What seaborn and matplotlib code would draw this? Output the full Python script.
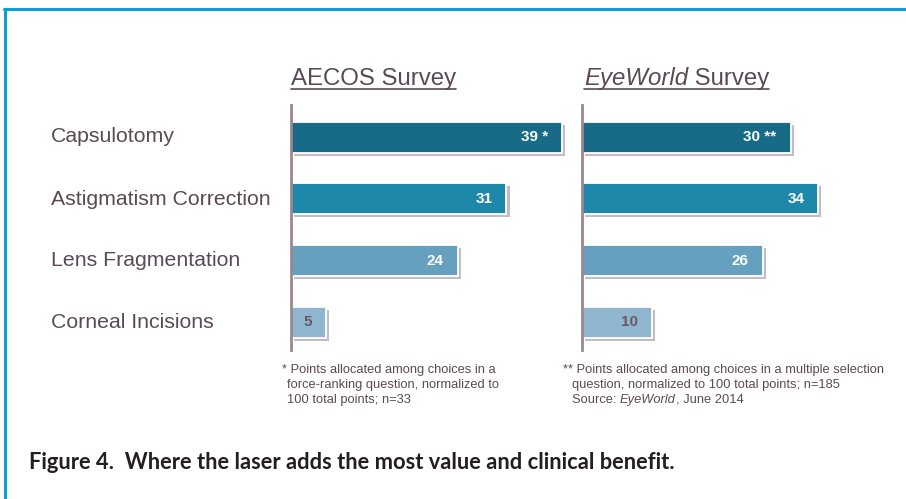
import matplotlib
matplotlib.use("Agg")
import matplotlib.pyplot as plt
import matplotlib.patheffects as pe
from matplotlib.lines import Line2D
import seaborn as sns
import pandas as pd

categories = ["Capsulotomy", "Astigmatism Correction", "Lens Fragmentation", "Corneal Incisions"]
aecos_values = [39, 31, 24, 5]
eyeworld_values = [30, 34, 26, 10]
aecos_labels = ["39 *", "31", "24", "5"]
eyeworld_labels = ["30 **", "34", "26", "10"]
bar_colors = ["#176b87", "#1e88ab", "#65a0bf", "#8fb5cf"]
label_colors = ["white", "white", "white", "#6b5a65"]

sns.set_style("white")
plt.rcParams["font.family"] = ["Liberation Sans", "DejaVu Sans"]

W, H = 906, 499
fig = plt.figure(figsize=(W / 100, H / 100), dpi=100)
fig.patch.set_facecolor("white")
renderer = fig.canvas.get_renderer()

TXT = "#5b4a55"
AXC = "#9b8790"


def fx(px):
    return px / W


def fy(py):
    return 1 - py / H


def width_px(t):
    return t.get_window_extent(renderer=renderer).width


def fit(t, target):
    w = width_px(t)
    t.set_fontsize(t.get_fontsize() * target / w)
    return t


def chain(x, y, parts, size, color):
    """parts: list of (text, style). returns right edge px"""
    for s, style in parts:
        t = fig.text(fx(x), fy(y), s, ha="left", va="baseline", fontsize=size, color=color, style=style)
        x += width_px(t)
    return x


# border (top and left)
fig.add_artist(Line2D([fx(5), fx(5)], [fy(9), 0], color="#0b9fd8", lw=2.2, transform=fig.transFigure))
fig.add_artist(Line2D([fx(4), 1], [fy(9), fy(9)], color="#0b9fd8", lw=2.2, transform=fig.transFigure))

ax_bottom, ax_top = 350, 105
panels = [
    (291, aecos_values, aecos_labels),
    (582, eyeworld_values, eyeworld_labels),
]
for left, vals, labs in panels:
    ax = fig.add_axes([fx(left), fy(ax_bottom), 278 / W, (ax_bottom - ax_top) / H])
    df = pd.DataFrame({"cat": categories, "val": vals})
    sns.barplot(data=df, y="cat", x="val", hue="cat", palette=bar_colors, orient="h",
                width=0.5, legend=False, ax=ax, saturation=1)
    for p in ax.patches:
        p.set_edgecolor("white")
        p.set_linewidth(1.3)
        p.set_path_effects([pe.SimplePatchShadow(offset=(2.2, -2.2), shadow_rgbFace="#8c7a86", alpha=0.5),
                            pe.Normal()])
    for i, (v, t) in enumerate(zip(vals, labs)):
        ax.annotate(t, xy=(v, i), xytext=(-10, 0), textcoords="offset points",
                    ha="right", va="center", color=label_colors[i], fontsize=11, fontweight="bold")
    ax.set_xlim(0, 40)
    ax.set_ylim(3.45, -0.52)
    ax.set_xlabel("")
    ax.set_ylabel("")
    ax.set_xticks([])
    ax.set_yticks([])
    for s in ["top", "right", "bottom"]:
        ax.spines[s].set_visible(False)
    ax.spines["left"].set_color(AXC)
    ax.spines["left"].set_linewidth(2)
    ax.patch.set_alpha(0)

# category labels
ycent = [137, 199, 261, 322]
probe = fig.text(0, 0, "Astigmatism Correction", fontsize=13.5)
cat_size = 13.5 * 219 / width_px(probe)
probe.remove()
for c, y in zip(categories, ycent):
    fig.text(fx(51), fy(y), c, ha="left", va="center", fontsize=cat_size, color=TXT)

# panel titles
probe = fig.text(0, 0, "AECOS Survey", fontsize=15.5)
title_size = 15.5 * 165 / width_px(probe)
probe.remove()
r1 = chain(291, 85, [("AECOS Survey", "normal")], title_size, TXT)
fig.add_artist(Line2D([fx(291), fx(r1)], [fy(89), fy(89)], color=TXT, lw=1.2, transform=fig.transFigure))
r2 = chain(584, 85, [("EyeWorld", "italic"), (" Survey", "normal")], title_size, TXT)
fig.add_artist(Line2D([fx(584), fx(r2)], [fy(89), fy(89)], color=TXT, lw=1.2, transform=fig.transFigure))

# footnotes
probe = fig.text(0, 0, "* Points allocated among choices in a", fontsize=9)
fs = 9 * 216 / width_px(probe)
probe.remove()
chain(282, 373, [("* Points allocated among choices in a", "normal")], fs, TXT)
chain(287, 388, [("force-ranking question, normalized to", "normal")], fs, TXT)
chain(287, 403, [("100 total points; n=33", "normal")], fs, TXT)

chain(563, 373, [("** Points allocated among choices in a multiple selection", "normal")], fs, TXT)
chain(572, 388, [("question, normalized to 100 total points; n=185", "normal")], fs, TXT)
chain(572, 403, [("Source: ", "normal"), ("EyeWorld", "italic"), (", June 2014", "normal")], fs, TXT)

# caption
cap = fig.text(fx(29), fy(469), "Figure 4.  Where the laser adds the most value and clinical benefit.",
               fontsize=12.5, fontweight="bold", color="#231f20", va="baseline",
               family=["Lato", "DejaVu Sans"])
fit(cap, 648)

fig.savefig("out.png", dpi=100, facecolor="white")
